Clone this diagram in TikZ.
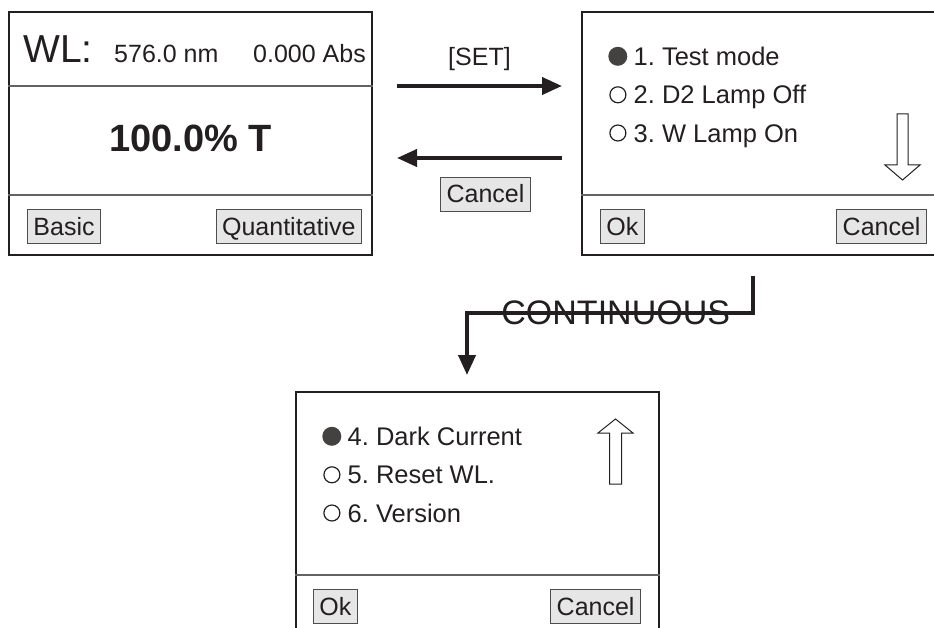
\documentclass[tikz,border=0pt]{standalone}
\usepackage{fontspec}
\setmainfont{Liberation Sans}
\frenchspacing
\usetikzlibrary{arrows.meta,positioning}
\definecolor{ink}{HTML}{231F20}
\definecolor{keyfill}{HTML}{E6E6E6}
\tikzstyle{screen}=[rectangle, draw=ink, line width=2pt, minimum width=363pt, minimum height=243pt, inner sep=0pt]
\tikzstyle{key}=[rectangle, draw=ink!80, fill=keyfill, line width=0.9pt, minimum height=34pt, inner xsep=6pt, inner ysep=0pt, text height=18pt, text depth=0pt, text=ink, font=\fontsize{25}{30}\selectfont]
\tikzstyle{item}=[inner sep=0pt, text height=18.3pt, text depth=0pt, text=ink, font=\fontsize{25.5}{30}\selectfont]
\tikzstyle{readout}=[inner sep=0pt, text=ink, font=\fontsize{25}{30}\selectfont]
\tikzstyle{dotfull}=[circle, fill=ink!85, minimum size=19pt, inner sep=0pt]
\tikzstyle{dotopen}=[circle, draw=ink, line width=1.2pt, minimum size=16pt, inner sep=0pt]
\tikzstyle{sep}=[draw=ink!70, line width=1.2pt]
\tikzstyle{flow}=[draw=ink, line width=4pt, -{Triangle[length=20pt,width=17pt]}]
\tikzstyle{hollow}=[draw=ink, line width=1pt, fill=white]

\begin{document}
\begin{tikzpicture}[x=1pt,y=-1pt]
	\useasboundingbox (0,0) rectangle (934,628);
	\clip (0,0) rectangle (934,628);
	
	% measuring screen
	\node[screen](main) at (190.5,133.5){};
	\draw[sep]([yshift=-75pt]main.north west)--([yshift=-75pt]main.north east);
	\draw[sep]([yshift=61pt]main.south west)--([yshift=61pt]main.south east);
	\node[readout,font=\fontsize{39}{47}\selectfont,anchor=base west](wl) at ([xshift=15pt,yshift=-52pt]main.north west){WL:};
	\node[readout,anchor=base west](nm) at ([xshift=106pt,yshift=-52pt]main.north west){576.0 nm};
	\node[readout,anchor=base east](abs) at ([xshift=-7pt,yshift=-52pt]main.north east){0.000 Abs};
	\node[readout,font=\fontsize{38}{46}\bfseries\selectfont,anchor=base](trans) at ([yshift=-18.5pt]main.center){100.0\% T};
	\node[key,anchor=west](basic) at ([xshift=19pt,yshift=29.5pt]main.south west){Basic};
	\node[key,anchor=east](quant) at ([xshift=-11pt,yshift=29.5pt]main.south east){Quantitative};
	
	% first menu page
	\node[screen](menuA) at (763.5,133.5){};
	\draw[sep]([yshift=61pt]menuA.south west)--([yshift=61pt]menuA.south east);
	\node[item,anchor=west](test) at ([xshift=52.5pt,yshift=-45.3pt]menuA.north west){1. Test mode};
	\node[item,anchor=west](dtwo) at ([xshift=52.5pt,yshift=-83.8pt]menuA.north west){2. D2 Lamp Off};
	\node[item,anchor=west](wlamp) at ([xshift=52.5pt,yshift=-122pt]menuA.north west){3. W Lamp On};
	\node[dotfull](testdot)[left=6pt of test]{};
	\node[dotopen](dtwodot)[left=7pt of dtwo]{};
	\node[dotopen](wlampdot)[left=7pt of wlamp]{};
	\draw[hollow]([xshift=-49pt,yshift=-103pt]menuA.north east)--++(0,51)--++(-12,0)--++(17.5,15)--++(17.5,-15)--++(-12,0)--++(0,-51)--cycle;
	\node[key,anchor=west](oka) at ([xshift=19pt,yshift=29.5pt]menuA.south west){Ok};
	\node[key,anchor=east](cancela) at ([xshift=-19pt,yshift=29.5pt]menuA.south east){Cancel};
	
	\draw[flow]([xshift=24pt,yshift=47.5pt]main.east)--node[readout,anchor=base,yshift=20pt](setkey){[SET]}([xshift=-19pt,yshift=47.5pt]menuA.west);
	\draw[flow]([xshift=-19pt,yshift=-24.5pt]menuA.west)--node[key,xshift=6pt,yshift=-36pt](cancelkey){Cancel}([xshift=24pt,yshift=-24.5pt]main.east);
	
	% second menu page
	\node[screen](menuB) at (477.5,513.5){};
	\draw[sep]([yshift=61pt]menuB.south west)--([yshift=61pt]menuB.south east);
	\node[item,anchor=west](dark) at ([xshift=52.5pt,yshift=-45.3pt]menuB.north west){4. Dark Current};
	\node[item,anchor=west](reset) at ([xshift=52.5pt,yshift=-83.8pt]menuB.north west){5. Reset WL.};
	\node[item,anchor=west](version) at ([xshift=52.5pt,yshift=-122pt]menuB.north west){6. Version};
	\node[dotfull](darkdot)[left=6pt of dark]{};
	\node[dotopen](resetdot)[left=7pt of reset]{};
	\node[dotopen](versiondot)[left=7pt of version]{};
	\draw[hollow]([xshift=-44.5pt,yshift=-28pt]menuB.north east)--++(17.5,14)--++(-11.5,0)--++(0,51)--++(-12,0)--++(0,-51)--++(-11.5,0)--cycle;
	\node[key,anchor=west](okb) at ([xshift=18pt,yshift=30pt]menuB.south west){Ok};
	\node[key,anchor=east](cancelb) at ([xshift=-19pt,yshift=30pt]menuB.south east){Cancel};
	
	\draw[flow]([xshift=-10.5pt,yshift=-20pt]menuA.south)--++(0,37)-|node[pos=0.24,readout,font=\fontsize{34}{41}\selectfont](cont){CONTINUOUS}([xshift=-10.5pt,yshift=16pt]menuB.north);
\end{tikzpicture}
\end{document}
